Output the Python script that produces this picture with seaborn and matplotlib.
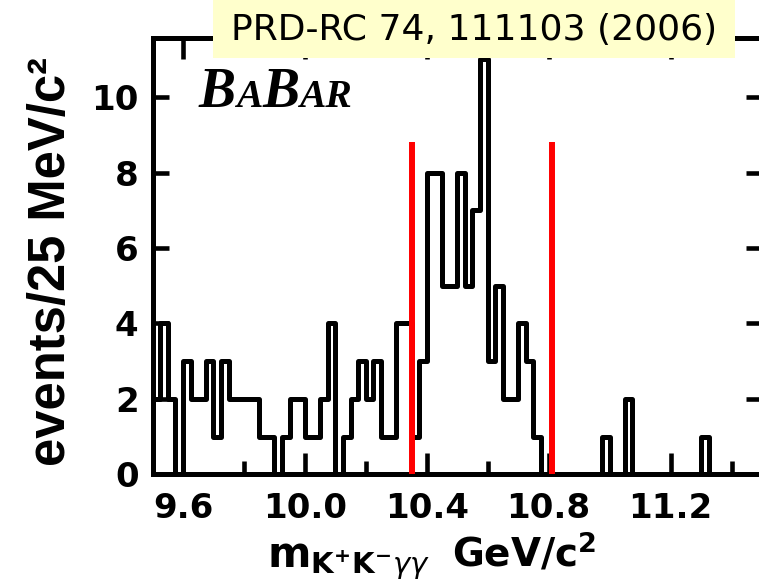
import matplotlib
matplotlib.use("Agg")
import matplotlib.pyplot as plt
import seaborn as sns
import numpy as np
import pandas as pd
from matplotlib.patches import Rectangle
from matplotlib.offsetbox import TextArea, HPacker, AnnotationBbox

# ---------------- data ----------------
x_start = 9.5          # GeV/c^2, first bin edge
bin_width = 0.025      # 25 MeV/c^2
counts = [2, 4, 2, 0, 3, 2, 2, 3, 1, 3,
          2, 2, 2, 2, 1, 1, 0, 1, 2, 2,
          1, 1, 2, 4, 0, 1, 2, 3, 2, 3,
          1, 1, 4, 4, 1, 3, 8, 8, 5, 5,
          8, 5, 7, 11, 3, 5, 2, 2, 4, 3,
          1, 0, 0, 0, 0, 0, 0, 0, 0, 1,
          0, 0, 2, 0, 0, 0, 0, 0, 0, 0,
          0, 0, 1, 0, 0, 0, 0, 0, 0, 0]
signal_window = [10.35, 10.81]
window_height = 8.8
xtick_major = [9.6, 10.0, 10.4, 10.8, 11.2]
xtick_labels = ["9.6", "10.0", "10.4", "10.8", "11.2"]
xtick_minor = [9.8, 10.2, 10.6, 11.0, 11.4]
ytick_major = [0, 2, 4, 6, 8, 10]
ytick_labels = ["0", "2", "4", "6", "8", "10"]
title_text = "PRD-RC 74, 111103 (2006)"

edges = [x_start + bin_width * i for i in range(len(counts) + 1)]
centers = [e + bin_width / 2 for e in edges[:-1]]
df = pd.DataFrame({"mass": centers, "n": counts})

# ---------------- figure ----------------
sns.set_theme(style="ticks")
plt.rcParams['font.family'] = ['DejaVu Sans']
plt.rcParams['mathtext.fontset'] = 'dejavusans'
plt.rcParams['text.color'] = 'black'
plt.rcParams['axes.labelcolor'] = 'black'
plt.rcParams['xtick.color'] = 'black'
plt.rcParams['ytick.color'] = 'black'

W, H = 759, 584
fig = plt.figure(figsize=(W / 100, H / 100), dpi=100)
fig.patch.set_facecolor("white")
ax = fig.add_axes([152.5 / W, (H - 474.3) / H, (762 - 152.5) / W, (474.3 - 38) / H])
ax.set_facecolor("white")

sns.histplot(data=df, x="mass", weights="n", bins=edges, element="step",
             fill=False, color="black", linewidth=3.6, ax=ax)

ax.vlines(signal_window, 0, window_height, colors="red", linewidth=4.3, zorder=3)

ax.set_xlim(9.5, 11.5)
ax.set_ylim(0, 11.57)
ax.set_xlabel("")
ax.set_ylabel("")

for s in ax.spines.values():
    s.set_linewidth(3.6)
    s.set_color("black")
    s.set_visible(True)

ax.set_xticks(xtick_major, labels=xtick_labels, fontweight="bold", fontsize=24.5)
ax.set_xticks(xtick_minor, minor=True)
ax.set_yticks(ytick_major, labels=ytick_labels, fontweight="bold", fontsize=24.5)
ax.tick_params(axis="x", which="major", direction="in", length=15, width=3.3,
               top=True, bottom=True, pad=13, colors="black")
ax.tick_params(axis="x", which="minor", direction="in", length=9.5, width=3.3,
               top=True, bottom=True)
ax.tick_params(axis="y", which="major", direction="in", length=11.5, width=3.3,
               left=True, right=True, pad=10, colors="black")
ax.tick_params(axis="y", which="minor", left=False, right=False)

# axis titles
fig.text(52 / W, 1 - 261 / H, "events/25 MeV/c²", rotation=90, ha="center",
         va="center", fontsize=36.5, fontweight="bold", color="black",
         family=["Liberation Sans", "DejaVu Sans"])

xl_m = TextArea(r"$\mathbf{m}_{\mathbf{K^{+}K^{-}}\gamma\gamma}$",
                textprops=dict(fontsize=30, color="black"))
xl_rest = TextArea(r"GeV/c$^{\mathbf{2}}$",
                   textprops=dict(fontsize=28, fontweight="bold", color="black"))
xl = HPacker(children=[xl_m, xl_rest], align="baseline", pad=0, sep=16)
ab = AnnotationBbox(xl, (432 / W, 1 - 557 / H), xycoords="figure fraction",
                    frameon=False, box_alignment=(0.5, 0.5))
fig.add_artist(ab)

# BaBar logo
logo_big = dict(fontsize=40, fontweight="bold", fontstyle="italic",
                family="Liberation Serif", color="black")
logo_small = dict(fontsize=28.5, fontweight="bold", fontstyle="italic",
                  family="Liberation Serif", color="black")
logo = HPacker(children=[TextArea("B", textprops=logo_big),
                         TextArea("A", textprops=logo_small),
                         TextArea("B", textprops=logo_big),
                         TextArea("AR", textprops=logo_small)],
               align="baseline", pad=0, sep=0)
ab2 = AnnotationBbox(logo, (199 / W, 1 - 93 / H), xycoords="figure fraction",
                     frameon=False, box_alignment=(0.0, 0.5))
fig.add_artist(ab2)

# reference box
fig.add_artist(Rectangle((213 / W, 1 - 58 / H), 522 / W, 58 / H,
                         transform=fig.transFigure, facecolor="#ffffcc",
                         edgecolor="none", zorder=10))
fig.text(474 / W, 1 - 30 / H, title_text, ha="center", va="center",
         fontsize=26, color="black", zorder=11)

fig.savefig("out.png", dpi=100)
